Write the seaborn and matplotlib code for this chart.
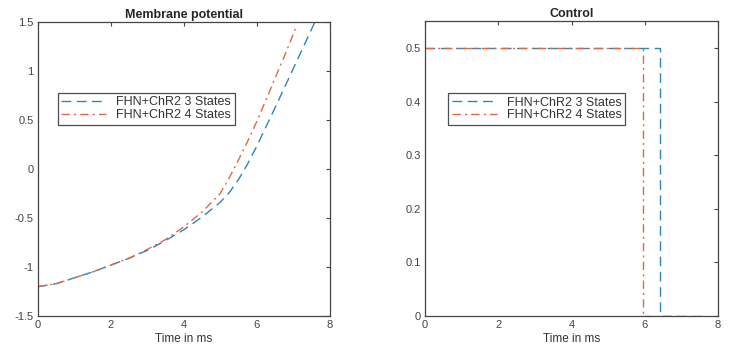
import matplotlib
matplotlib.use("Agg")
import matplotlib.pyplot as plt
import seaborn as sns
import pandas as pd

# Membrane potential data
t_v3 = [0, 0.5, 1, 1.5, 2, 2.5, 3, 3.5, 4, 4.5, 5, 5.25, 5.5, 5.75, 6, 6.5, 7, 7.5, 7.6]
v3 = [-1.2, -1.17, -1.11, -1.05, -0.98, -0.91, -0.83, -0.73, -0.62, -0.49, -0.34, -0.24, -0.11, 0.05, 0.23, 0.62, 1.02, 1.42, 1.5]
t_v4 = [0, 0.5, 1, 1.5, 2, 2.5, 3, 3.5, 4, 4.5, 5, 5.25, 5.5, 5.75, 6, 6.25, 6.5, 6.75, 7, 7.1]
v4 = [-1.2, -1.17, -1.11, -1.05, -0.98, -0.91, -0.82, -0.72, -0.59, -0.44, -0.25, -0.09, 0.09, 0.28, 0.48, 0.70, 0.92, 1.14, 1.37, 1.47]

# Control data (step)
t_u3 = [0, 6.42, 7.6]
u3 = [0.5, 0.0, 0.0]
t_u4 = [0, 5.96, 7.1]
u4 = [0.5, 0.0, 0.0]

labels = ["FHN+ChR2 3 States", "FHN+ChR2 4 States"]
c3 = "#2e86b8"
c4 = "#dd6a45"

sns.set_style("white")
plt.rcParams["font.family"] = ["Liberation Sans", "DejaVu Sans"]

fig = plt.figure(figsize=(7.29, 3.6), dpi=100)
ax1 = fig.add_axes([0.052, 0.122, 0.40, 0.817])
ax2 = fig.add_axes([0.583, 0.122, 0.402, 0.819])

ls3 = (0, (7, 4))
ls4 = (0, (6, 3, 1.5, 3))

df3 = pd.DataFrame({"t": t_v3, "v": v3})
df4 = pd.DataFrame({"t": t_v4, "v": v4})
sns.lineplot(data=df3, x="t", y="v", ax=ax1, color=c3, lw=1.0,
             linestyle=ls3, label=labels[0], estimator=None, sort=False)
sns.lineplot(data=df4, x="t", y="v", ax=ax1, color=c4, lw=1.0,
             linestyle=ls4, label=labels[1], estimator=None, sort=False)

du3 = pd.DataFrame({"t": t_u3, "u": u3})
du4 = pd.DataFrame({"t": t_u4, "u": u4})
sns.lineplot(data=du3, x="t", y="u", ax=ax2, color=c3, lw=1.0, drawstyle="steps-post",
             linestyle=ls3, label=labels[0], estimator=None, sort=False)
sns.lineplot(data=du4, x="t", y="u", ax=ax2, color=c4, lw=1.0, drawstyle="steps-post",
             linestyle=ls4, label=labels[1], estimator=None, sort=False)

ax1.set_xlim(0, 8)
ax1.set_ylim(-1.5, 1.5)
ax1.set_xticks([0, 2, 4, 6, 8])
ax1.set_yticks([-1.5, -1, -0.5, 0, 0.5, 1, 1.5])
ax1.set_yticklabels(["-1.5", "-1", "-0.5", "0", "0.5", "1", "1.5"])
ax1.set_title("Membrane potential", fontsize=9, fontweight="bold", pad=3)

ax2.set_xlim(0, 8)
ax2.set_ylim(0, 0.55)
ax2.set_xticks([0, 2, 4, 6, 8])
ax2.set_yticks([0, 0.1, 0.2, 0.3, 0.4, 0.5])
ax2.set_yticklabels(["0", "0.1", "0.2", "0.3", "0.4", "0.5"])
ax2.set_title("Control", fontsize=9, fontweight="bold", pad=3)

for ax in (ax1, ax2):
    ax.set_xlabel("Time in ms", fontsize=8.5, color="#333333", labelpad=2)
    ax.set_ylabel("")
    ax.tick_params(direction="in", length=3, width=0.8, labelsize=8, colors="#444444",
                   top=True, right=True, pad=3)
    for s in ax.spines.values():
        s.set_color("#444444")
        s.set_linewidth(0.9)

legkw = dict(loc="upper left", fontsize=9, frameon=True, fancybox=False,
             edgecolor="#222222", handlelength=3.6, borderpad=0.3,
             labelspacing=0.05, handletextpad=0.8, borderaxespad=0)
leg1 = ax1.legend(bbox_to_anchor=(0.068, 0.76), **legkw)
leg1.get_frame().set_linewidth(0.9)
leg2 = ax2.legend(bbox_to_anchor=(0.078, 0.757), **legkw)
leg2.get_frame().set_linewidth(0.9)
for leg in (leg1, leg2):
    for txt in leg.get_texts():
        txt.set_color("#333333")

fig.savefig("out.png", dpi=100)
